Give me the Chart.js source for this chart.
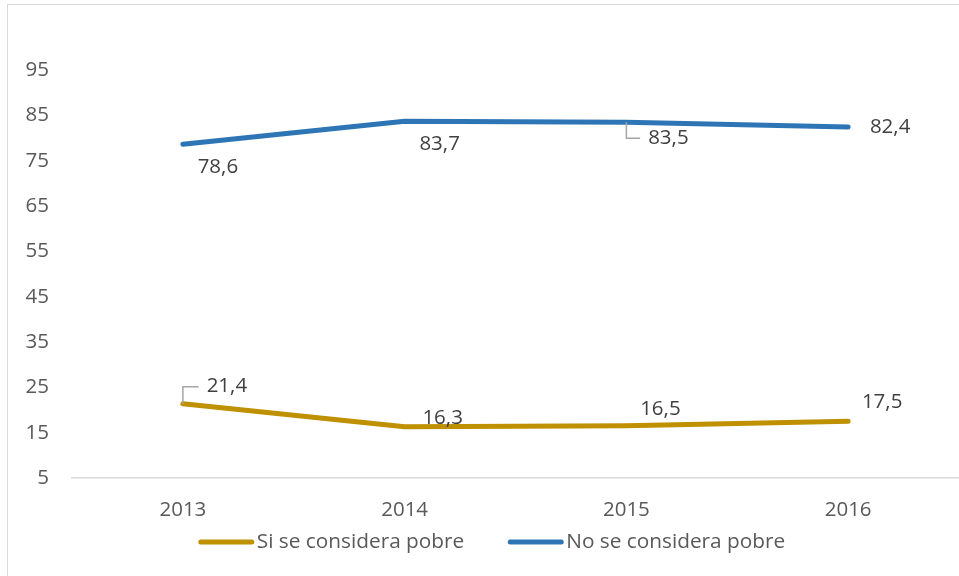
<!DOCTYPE html>
<html>
<head>
<meta charset="utf-8">
<script src="https://cdn.jsdelivr.net/npm/chart.js@4.4.1/dist/chart.umd.min.js"></script>
<style>
  html, body { margin: 0; padding: 0; background: #fff; overflow: hidden; }
  #wrap { position: relative; width: 959px; height: 576px; }
  #frame { position: absolute; left: 7px; top: 4px; width: 970px; height: 600px; border: 1px solid #d9d9d9; box-sizing: border-box; }
  canvas { position: absolute; left: 0; top: 0; }
</style>
</head>
<body>
<div id="wrap">
  <div id="frame"></div>
  <canvas id="chart" width="959" height="576"></canvas>
</div>
<script>
// Datos
const years = ['2013', '2014', '2015', '2016'];
const siPobre = [21.4, 16.3, 16.5, 17.5];
const noPobre = [78.6, 83.7, 83.5, 82.4];
const seriesNames = ['Si se considera pobre', 'No se considera pobre'];

// desplazamiento de etiquetas respecto al punto [dx, dy, lineaGuia]
const labelOffsets = [
  [[44, -17, true], [38, -9, false], [34, -17, false], [34, -19, false]],
  [[35, 23, false], [35, 23, false], [42, 16, true], [42, 0, false]]
];

const FONT = '"Open Sans", "DejaVu Sans", sans-serif';

const dataLabels = {
  id: 'dataLabels',
  afterDatasetsDraw(chart) {
    const ctx = chart.ctx;
    ctx.save();
    ctx.font = '20.5px ' + FONT;
    ctx.textAlign = 'center';
    ctx.textBaseline = 'middle';
    chart.data.datasets.forEach((ds, di) => {
      chart.getDatasetMeta(di).data.forEach((pt, i) => {
        const [dx, dy, guide] = labelOffsets[di][i];
        const tx = pt.x + dx, ty = pt.y + dy;
        const txt = ds.data[i].toFixed(1).replace('.', ',');
        if (guide) {
          const w = ctx.measureText(txt).width;
          ctx.strokeStyle = '#a6a6a6';
          ctx.lineWidth = 1.5;
          ctx.beginPath();
          ctx.moveTo(pt.x, pt.y);
          ctx.lineTo(pt.x, ty);
          ctx.lineTo(tx - w / 2 - 8, ty);
          ctx.stroke();
        }
        ctx.fillStyle = '#404040';
        ctx.fillText(txt, tx, ty);
      });
    });
    ctx.restore();
  }
};

// leyenda propia (linea + texto, como en Excel)
const lineLegend = {
  id: 'lineLegend',
  afterDraw(chart) {
    const ctx = chart.ctx;
    const lineW = 55, gap = 3, itemGap = 44;
    ctx.save();
    ctx.font = '20.8px ' + FONT;
    ctx.textBaseline = 'middle';
    const items = chart.data.datasets.map(ds => ({
      text: ds.label, color: ds.borderColor, w: ctx.measureText(ds.label).width
    }));
    const total = items.reduce((s, it) => s + lineW + gap + it.w, 0) + itemGap * (items.length - 1);
    const center = (25 + chart.chartArea.right) / 2;
    const y = chart.chartArea.bottom + 64;
    let x = center - total / 2;
    items.forEach(it => {
      ctx.strokeStyle = it.color;
      ctx.lineWidth = 5;
      ctx.lineCap = 'round';
      ctx.beginPath();
      ctx.moveTo(x + 2, y);
      ctx.lineTo(x + lineW - 2, y);
      ctx.stroke();
      ctx.fillStyle = '#595959';
      ctx.fillText(it.text, x + lineW + gap, y);
      x += lineW + gap + it.w + itemGap;
    });
    ctx.restore();
  }
};

new Chart(document.getElementById('chart'), {
  type: 'line',
  data: {
    labels: years,
    datasets: [
      { label: seriesNames[0], data: siPobre, borderColor: '#bf9000', backgroundColor: '#bf9000',
        borderWidth: 5, borderCapStyle: 'round', borderJoinStyle: 'round', pointRadius: 0, tension: 0 },
      { label: seriesNames[1], data: noPobre, borderColor: '#2e75b6', backgroundColor: '#2e75b6',
        borderWidth: 5, borderCapStyle: 'round', borderJoinStyle: 'round', pointRadius: 0, tension: 0 }
    ]
  },
  options: {
    responsive: false,
    animation: false,
    layout: { padding: { top: 70, right: 0, left: 0, bottom: 54 } },
    plugins: {
      tooltip: { enabled: false },
      legend: { display: false }
    },
    scales: {
      x: {
        offset: true,
        afterFit(scale) { scale.height = 44; },
        grid: { display: false, drawTicks: false },
        border: { display: true, color: '#d9d9d9', width: 1.5 },
        ticks: { color: '#595959', font: { family: FONT, size: 20.5 }, padding: 20 }
      },
      y: {
        min: 5,
        max: 95,
        afterFit(scale) { scale.width = 72; },
        grid: { display: false, drawTicks: false },
        border: { display: false },
        ticks: { stepSize: 10, color: '#595959', font: { family: FONT, size: 20.5 }, padding: 23 }
      }
    }
  },
  plugins: [dataLabels, lineLegend]
});
</script>
</body>
</html>
